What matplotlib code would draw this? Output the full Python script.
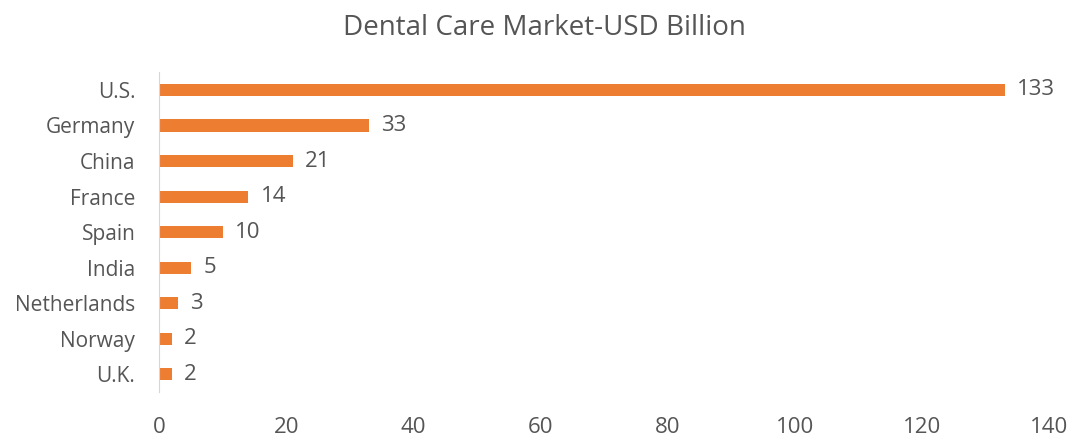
import matplotlib
matplotlib.use("Agg")
import matplotlib.pyplot as plt

countries = ["U.K.", "Norway", "Netherlands", "India", "Spain", "France", "China", "Germany", "U.S."]
values = [2, 2, 3, 5, 10, 14, 21, 33, 133]
x_ticks = [0, 20, 40, 60, 80, 100, 120, 140]

plt.rcParams['font.family'] = ['Open Sans', 'DejaVu Sans']
txt_col = "#555555"
bar_col = "#ED7D31"

fig = plt.figure(figsize=(10.74, 4.4), dpi=100)
ax = fig.add_axes([0.148, 0.109, 0.829, 0.727])

ax.barh(range(len(countries)), values, height=0.34, color=bar_col)
for i, v in enumerate(values):
    ax.annotate(str(v), (v, i), xytext=(9, 0), textcoords="offset points",
                va="center", ha="left", fontsize=16, color=txt_col)

ax.set_xlim(0, 140)
ax.set_ylim(-0.5, len(countries) - 0.5)
ax.set_xticks(x_ticks)
ax.set_yticks(range(len(countries)))
ax.set_yticklabels(countries)
ax.tick_params(axis="both", length=0, colors=txt_col)
ax.tick_params(axis="y", pad=17, labelsize=15)
ax.tick_params(axis="x", pad=18, labelsize=16)

for s in ["top", "right", "bottom"]:
    ax.spines[s].set_visible(False)
ax.spines["left"].set_color("#D0D7E0")
ax.spines["left"].set_linewidth(0.8)

fig.text(0.507, 0.936, "Dental Care Market-USD Billion", ha="center", va="center",
         fontsize=20, color=txt_col)

fig.savefig("out.png", dpi=100)
